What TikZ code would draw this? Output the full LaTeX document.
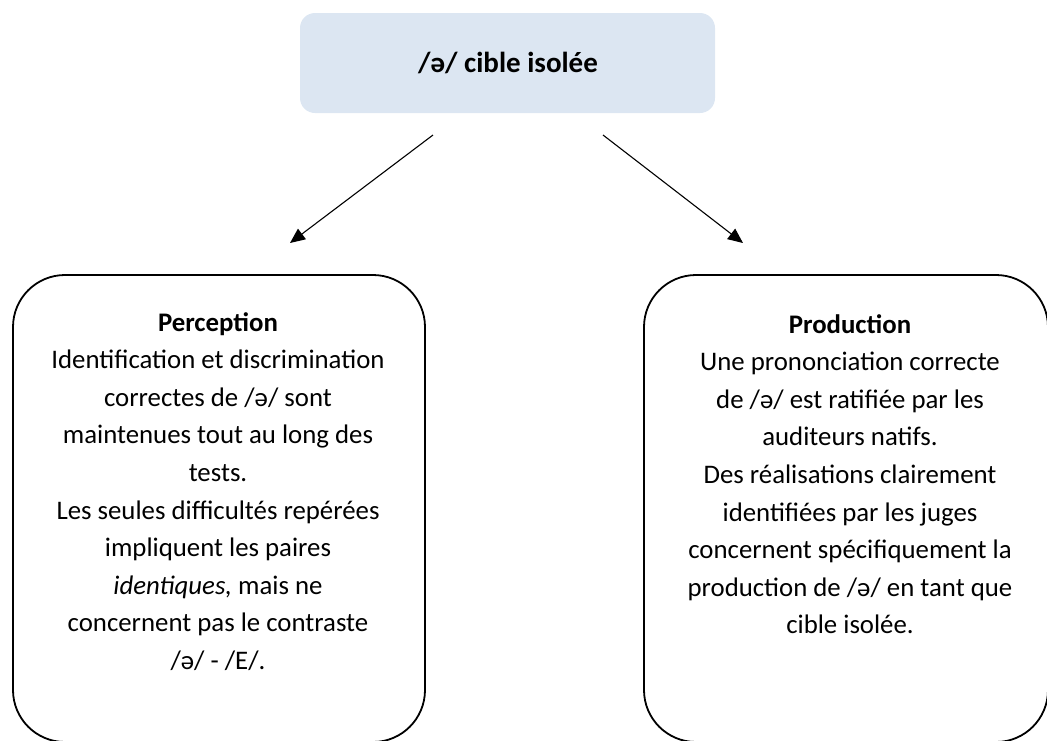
\documentclass[tikz,border=0pt]{standalone}
\usepackage{fontspec}
\setmainfont{Carlito}
\usetikzlibrary{arrows.meta}
\definecolor{titlefill}{HTML}{DCE6F2}
\tikzset{
  outerbox/.style={draw=black, line width=1.8pt, rounded corners=52pt, inner sep=0pt},
  titlebox/.style={fill=titlefill, rounded corners=15pt, inner sep=0pt, minimum width=415pt, minimum height=100pt},
  bodytext/.style={font=\fontsize{26.8}{37.6}\selectfont, text width=410pt, align=flush center, anchor=base, inner sep=0pt},
  link/.style={line width=1.1pt, -{Triangle[length=15pt,width=13pt]}}
}
\begin{document}
\begin{tikzpicture}[x=1pt,y=-1pt]
\useasboundingbox (0,0) rectangle (1047,740);
% title
\node[titlebox] (top) at (507.5,63) {};
\node[font=\bfseries\fontsize{29}{35}\selectfont, anchor=base, inner sep=0pt] (toptext) at (508,72) {/ə/ cible isolée};
% boxes
\node[outerbox, minimum width=412pt, minimum height=467pt] (left) at (219,508.5) {};
\node[outerbox, minimum width=404pt, minimum height=467pt] (right) at (846,508.5) {};
\node[bodytext] (lefttext) at (218,331) {\textbf{Perception}\\
Identification et discrimination\\
correctes de /ə/ sont\\
maintenues tout au long des\\
tests.\\
Les seules difficultés repérées\\
impliquent les paires\\
\textit{identiques,} mais ne\\
concernent pas le contraste\\
/ə/ - /E/.};
\node[bodytext] (righttext) at (850,333) {\textbf{Production}\\
Une prononciation correcte\\
de /ə/ est ratifiée par les\\
auditeurs natifs.\\
Des réalisations clairement\\
identifiées par les juges\\
concernent spécifiquement la\\
production de /ə/ en tant que\\
cible isolée.};
% arrows
\coordinate (ls) at (433,135);
\coordinate (le) at (290,243);
\coordinate (rs) at (603,135);
\coordinate (re) at (743,243);
\draw[link] (ls) -- (le);
\draw[link] (rs) -- (re);
\end{tikzpicture}
\end{document}
